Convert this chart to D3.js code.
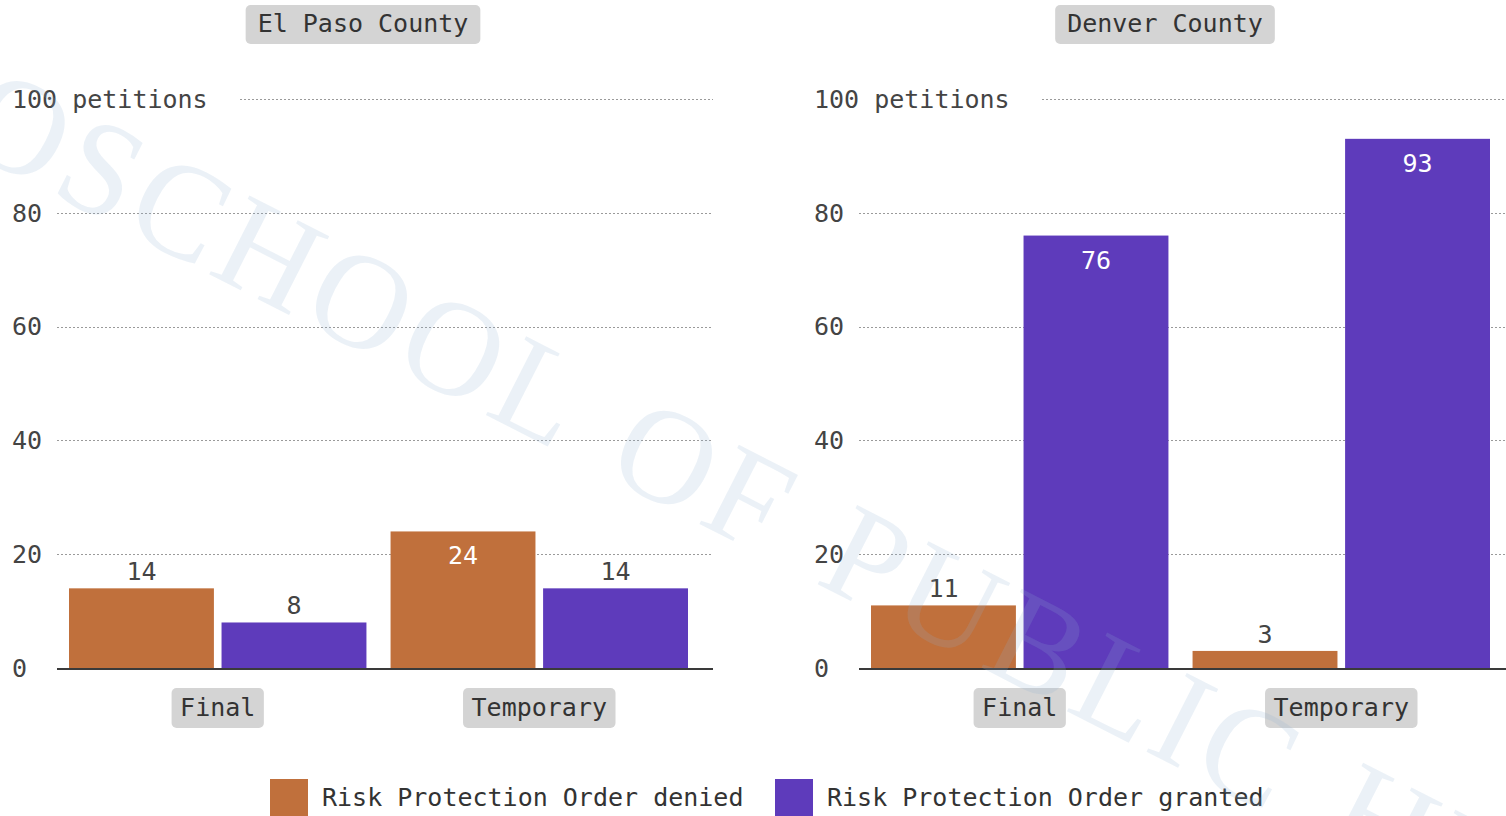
<!DOCTYPE html>
<html>
<head>
<meta charset="utf-8">
<script src="https://cdn.jsdelivr.net/npm/d3@7"></script>
<style>
  body { margin: 0; background: #fff; }
  text { font-family: "DejaVu Sans Mono", "Liberation Mono", monospace; }
</style>
</head>
<body>
<script>
// data
let counties = ["El Paso County", "Denver County"];
let orderTypes = ["Final", "Temporary"];
let outcomes = ["Risk Protection Order denied", "Risk Protection Order granted"];
let deniedValues = [[14, 24], [11, 3]];   // per county, per order type
let grantedValues = [[8, 14], [76, 93]];
let yTicks = [0, 20, 40, 60, 80, 100];

let colors = d3.scaleOrdinal().domain(outcomes).range(["#c0703c", "#5e3bbb"]);

let svg = d3.select("body").append("svg")
    .attr("width", 1506)
    .attr("height", 816);

let y = d3.scaleLinear().domain([0, 100]).range([668, 99]);

let x0 = d3.scaleBand().domain(orderTypes).range([69, 688]).paddingInner(0.075);
let x1 = d3.scaleBand().domain(outcomes).range([0, x0.bandwidth()]).paddingInner(0.05);

let panelOffset = [0, 802];

counties.forEach(function(county, ci) {
    let g = svg.append("g").attr("transform", "translate(" + panelOffset[ci] + ",0)");

    // grid
    yTicks.forEach(function(t) {
        if (t === 0) return;
        g.append("line")
            .attr("x1", t === 100 ? 240 : 57)
            .attr("x2", 713)
            .attr("y1", Math.round(y(t)) + 0.5)
            .attr("y2", Math.round(y(t)) + 0.5)
            .attr("stroke", "#9a9a9a")
            .attr("stroke-width", 1)
            .attr("stroke-dasharray", "2,2");
    });

    g.selectAll(".tick-label")
        .data(yTicks)
        .enter()
        .append("text")
        .attr("x", 12)
        .attr("y", d => y(d))
        .attr("dy", "0.35em")
        .style("font-size", "25px")
        .attr("fill", "#444")
        .text(d => d === 100 ? "100 petitions" : d);

    // bars
    let rows = orderTypes.map(function(t, ti) {
        return {type: t, values: [deniedValues[ci][ti], grantedValues[ci][ti]]};
    });

    let groups = g.selectAll(".grp")
        .data(rows)
        .enter()
        .append("g")
        .attr("transform", d => "translate(" + x0(d.type) + ",0)");

    let cells = groups.selectAll("g")
        .data(d => d.values.map((v, i) => ({key: outcomes[i], value: v})))
        .enter()
        .append("g");

    cells.append("rect")
        .attr("x", d => x1(d.key))
        .attr("y", d => y(d.value))
        .attr("width", x1.bandwidth())
        .attr("height", d => y(0) - y(d.value))
        .attr("fill", d => colors(d.key));

    cells.append("text")
        .attr("x", d => x1(d.key) + x1.bandwidth() / 2)
        .attr("y", d => d.value > 20 ? y(d.value) + 33 : y(d.value) - 8)
        .attr("text-anchor", "middle")
        .style("font-size", "25px")
        .attr("fill", d => d.value > 20 ? "#fff" : "#444")
        .text(d => d.value);

    // baseline
    g.append("line")
        .attr("x1", 57).attr("x2", 713)
        .attr("y1", y(0) + 1).attr("y2", y(0) + 1)
        .attr("stroke", "#3a3a3a")
        .attr("stroke-width", 2);

    // category labels
    orderTypes.forEach(function(t) {
        let cx = x0(t) + x0.bandwidth() / 2;
        let lbl = g.append("g");
        let txt = lbl.append("text")
            .attr("x", cx)
            .attr("y", 716)
            .attr("text-anchor", "middle")
            .style("font-size", "25px")
            .attr("fill", "#333")
            .text(t);
        let w = txt.node().getComputedTextLength() + 17;
        lbl.insert("rect", "text")
            .attr("x", cx - w / 2)
            .attr("y", 688)
            .attr("width", w)
            .attr("height", 40)
            .attr("rx", 5)
            .attr("fill", "#d4d4d4");
    });

    // county title
    let head = g.append("g");
    let ht = head.append("text")
        .attr("x", 363)
        .attr("y", 32)
        .attr("text-anchor", "middle")
        .style("font-size", "25px")
        .attr("fill", "#333")
        .text(county);
    let hw = ht.node().getComputedTextLength() + 24;
    head.insert("rect", "text")
        .attr("x", 363 - hw / 2)
        .attr("y", 5)
        .attr("width", hw)
        .attr("height", 39)
        .attr("rx", 5)
        .attr("fill", "#d4d4d4");
});

// legend
let legendX = [270, 775];
outcomes.forEach(function(o, i) {
    svg.append("rect")
        .attr("x", legendX[i])
        .attr("y", 779)
        .attr("width", 38)
        .attr("height", 40)
        .attr("fill", colors(o));
    svg.append("text")
        .attr("x", legendX[i] + 52)
        .attr("y", 806)
        .style("font-size", "25px")
        .attr("fill", "#333")
        .text(o);
});

// watermark
let wm = svg.append("g")
    .attr("transform", "translate(48,192) rotate(27)")
    .style("font-size", "135px")
    .style("letter-spacing", "6px")
    .attr("fill", "#8fb0d0")
    .attr("fill-opacity", 0.18);
wm.append("text")
    .attr("text-anchor", "end")
    .style("font-family", "'Liberation Serif', serif")
    .text("COLORADO ");
wm.append("text")
    .style("font-family", "'Liberation Serif', serif")
    .style("word-spacing", "12px")
    .text("SCHOOL OF PUBLIC HEALTH");
</script>
</body>
</html>
